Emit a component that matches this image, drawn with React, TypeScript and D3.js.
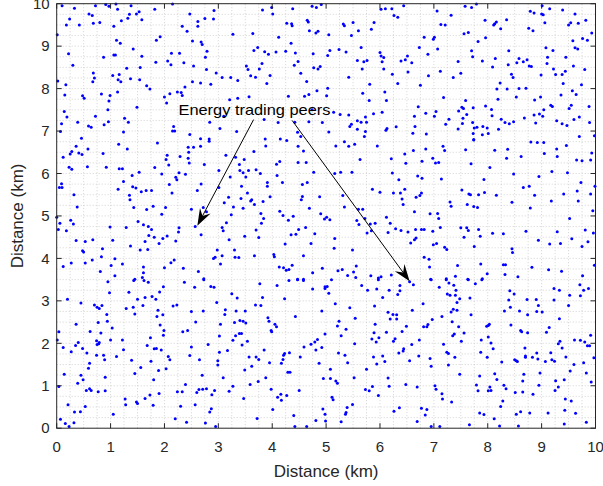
import React from "react";
import * as d3 from "d3";

const W = 603;
const H = 486;
const plot = { left: 56.7, right: 595.5, top: 3.7, bottom: 428.2 };

const xTicks = [0, 1, 2, 3, 4, 5, 6, 7, 8, 9, 10];
const yTicks = [0, 1, 2, 3, 4, 5, 6, 7, 8, 9, 10];
const xLabel = "Distance (km)";
const yLabel = "Distance (km)";
const annotationText = "Energy trading peers";
const annotationAt: [number, number] = [2.26, 7.38];
const arrowStarts: [number, number][] = [[3.655, 7.27], [4.37, 7.25]];
const arrowEnds: [number, number][] = [[2.61, 4.77], [6.55, 3.46]];

const peersTopLeft: [number, number][] = [
[0.10,9.95],[0.33,9.89],[0.72,9.95],[0.91,9.98],[0.97,9.94],[1.10,9.99],[1.13,9.87],[1.38,9.95],[1.82,9.87],[2.15,9.99],
[0.60,9.76],[0.66,9.72],[0.24,9.64],[0.18,9.50],[0.42,9.50],[0.68,9.54],[0.80,9.56],[1.06,9.47],[1.20,9.60],[1.32,9.66],
[1.35,9.75],[1.48,9.76],[1.53,9.81],[1.58,9.62],[2.47,9.76],[2.62,9.58],[2.62,9.47],[2.75,9.65],[2.91,9.64],[2.92,9.84],
[2.33,9.47],[2.42,9.35],[0.01,9.27],[1.11,9.14],[1.18,9.07],[1.85,9.14],[1.92,9.22],[2.52,9.12],[2.68,9.10],[2.70,9.04],
[0.22,8.82],[0.87,8.74],[1.06,8.79],[1.09,8.79],[1.42,8.93],[1.58,8.76],[2.13,8.83],[2.28,8.83],[2.79,8.88],[2.76,8.74],
[0.30,8.55],[0.68,8.37],[0.70,8.25],[0.67,8.16],[1.04,8.31],[1.16,8.33],[1.30,8.48],[1.55,8.50],[1.84,8.62],[2.06,8.65],
[2.12,8.56],[2.36,8.61],[2.54,8.53],[2.78,8.45],[2.96,8.37],[3.07,8.26],[0.02,8.18],[0.17,8.09],[1.14,8.21],[1.19,8.16],
[1.37,8.23],[1.54,8.21],[1.67,8.07],[1.73,7.99],[2.24,7.92],[2.31,7.91],[2.38,8.04],[2.52,8.16],[2.67,8.13],[2.86,8.10],
[0.15,7.85],[0.48,7.83],[0.51,7.77],[0.83,7.87],[0.99,7.84],[0.97,7.71],[1.13,7.92],[2.00,7.80],[2.10,7.88],[2.04,7.66],
[2.33,7.84],[0.14,7.46],[0.19,7.33],[0.39,7.21],[0.72,7.35],[0.95,7.50],[0.96,7.22],[0.88,7.15],[0.59,7.12],[0.64,7.09],
[1.49,7.56],[1.26,7.30],[1.33,7.21],[0.09,7.17],[0.07,6.99],[2.17,7.11],[2.15,7.00],[2.19,7.00],[2.47,6.92],[2.67,6.82],
[2.83,6.81],[3.03,7.06],[2.84,7.21],[3.10,7.35],[0.46,6.83],[1.24,6.98]
];

const peersTopMid: [number, number][] = [
[3.82,9.85],[3.99,9.91],[4.01,9.76],[4.38,9.88],[4.74,9.94],[4.82,9.91],[4.91,9.98],[6.02,9.87],[6.10,9.88],[6.22,9.88],
[6.44,9.95],[6.26,9.72],[6.33,9.68],[4.27,9.54],[4.36,9.53],[4.37,9.48],[4.65,9.61],[4.67,9.57],[4.69,9.36],[4.81,9.31],
[4.85,9.35],[5.05,9.27],[5.32,9.52],[5.34,9.48],[5.50,9.56],[5.60,9.36],[5.84,9.40],[5.89,9.56],[5.47,9.25],[3.27,9.28],
[3.64,9.30],[4.12,9.21],[4.35,9.07],[3.66,8.90],[3.73,8.97],[3.86,8.87],[3.93,8.81],[4.07,8.86],[4.25,8.88],[4.43,8.84],
[4.48,8.64],[4.41,8.55],[4.76,8.82],[5.03,8.78],[5.07,8.90],[5.24,8.92],[5.37,8.86],[5.65,8.97],[5.58,8.66],[5.70,8.63],
[5.76,8.66],[6.00,8.85],[6.04,8.63],[6.02,8.77],[6.07,8.73],[6.07,8.46],[6.39,8.65],[6.47,8.68],[6.51,8.77],[5.67,8.46],
[6.23,8.34],[6.52,8.39],[3.52,8.53],[3.55,8.45],[3.76,8.46],[3.81,8.59],[3.96,8.31],[3.90,8.12],[3.60,8.30],[3.69,8.27],
[4.53,8.36],[4.64,8.17],[4.77,8.49],[4.85,8.46],[4.89,8.52],[5.42,8.27],[5.03,8.01],[4.83,7.95],[4.68,7.86],[4.60,7.82],
[4.30,7.82],[5.01,7.83],[3.23,8.26],[3.36,8.19],[3.36,7.77],[3.57,7.81],[5.81,8.10],[5.68,7.89],[5.80,7.72],[6.09,7.92],
[6.33,8.12],[6.12,7.72],[6.04,7.44],[5.88,7.41],[5.42,7.38],[5.14,7.44],[5.26,7.39],[4.74,7.50],[4.11,7.20],[3.85,7.27],
[4.68,7.22],[4.93,7.20],[4.42,7.21],[5.05,6.98],[5.44,7.11],[5.47,7.16],[5.58,7.24],[5.65,7.21],[5.73,7.33],[5.75,7.21],
[5.58,7.04],[5.73,6.99],[5.71,6.87],[6.13,7.06],[6.11,7.02],[6.30,7.10],[3.34,6.99],[3.87,6.81],[4.15,6.81],[4.47,6.97],
[4.53,6.87],[3.21,7.74]
];

const peersTopRight: [number, number][] = [
[7.06,9.83],[7.32,9.73],[7.58,9.94],[7.70,9.91],[7.79,9.99],[7.13,9.51],[7.21,9.50],[7.95,9.61],[8.11,9.50],[8.13,9.53],
[8.16,9.57],[8.24,9.41],[8.35,9.62],[8.79,9.82],[8.86,9.78],[9.00,9.76],[9.03,9.74],[9.01,9.95],[9.15,9.88],[9.39,9.85],
[9.62,9.76],[9.50,9.50],[9.54,9.55],[9.68,9.54],[9.82,9.61],[8.76,9.42],[8.84,9.36],[9.06,9.55],[7.56,9.29],[7.64,9.32],
[6.82,9.21],[6.99,9.16],[7.01,9.21],[7.96,9.20],[7.82,9.11],[9.93,9.31],[9.58,9.13],[9.76,9.18],[9.85,9.14],[6.73,8.97],
[7.07,8.93],[6.89,8.81],[6.59,8.61],[7.45,8.64],[7.70,8.89],[7.72,8.75],[7.90,8.65],[8.14,8.71],[8.39,8.89],[8.38,8.56],
[8.54,8.61],[8.58,8.71],[8.66,8.63],[8.73,8.68],[8.77,8.53],[8.81,8.52],[9.08,8.96],[9.21,8.90],[9.11,8.74],[9.10,8.59],
[9.22,8.46],[9.62,8.96],[9.67,8.93],[9.45,8.74],[9.59,8.53],[9.44,8.41],[8.09,8.51],[7.12,8.41],[7.36,8.26],[7.50,8.36],
[6.90,8.30],[8.44,8.34],[8.47,8.26],[8.23,8.13],[8.17,7.99],[8.36,7.99],[8.58,8.00],[8.71,8.01],[8.99,8.32],[9.26,8.33],
[9.38,8.33],[9.40,8.12],[9.57,7.95],[9.64,7.86],[9.74,8.09],[9.80,8.45],[6.75,8.08],[7.18,7.79],[7.59,7.72],[8.19,7.75],
[8.53,7.80],[8.87,7.73],[8.98,7.80],[9.36,7.85],[6.71,7.57],[6.85,7.42],[7.01,7.35],[7.04,7.46],[7.22,7.16],[7.28,7.28],
[7.52,7.56],[7.55,7.53],[7.46,7.47],[7.73,7.55],[7.54,7.30],[7.61,7.39],[7.53,7.18],[7.96,7.59],[8.07,7.51],[8.08,7.36],
[8.25,7.28],[8.32,7.20],[8.40,7.17],[8.48,7.22],[8.68,7.31],[8.86,7.38],[8.96,7.40],[9.04,7.50],[9.02,7.35],[9.17,7.61],
[9.20,7.58],[9.51,7.53],[9.55,7.61],[8.89,7.19],[9.28,7.24],[9.38,7.17],[9.47,7.13],[9.60,7.27],[9.70,7.33],[9.88,7.58],
[9.89,7.20],[6.64,7.35],[6.65,7.11],[6.61,6.95],[6.86,6.93],[7.45,7.05],[7.72,7.20],[7.75,7.07],[7.80,7.09],[7.91,7.11],
[7.99,7.07],[8.20,7.04],[7.73,6.94],[7.74,6.80],[7.90,6.91],[8.01,6.94],[9.70,6.87],[9.98,6.89]
];

const peersMidLeft: [number, number][] = [
[0.36,6.64],[1.15,6.69],[1.31,6.58],[1.87,6.72],[0.12,6.38],[0.25,6.46],[0.28,6.52],[0.41,6.48],[0.47,6.45],[0.58,6.58],
[0.86,6.47],[0.23,6.15],[0.28,6.10],[0.57,6.16],[0.92,6.15],[1.16,6.11],[1.22,6.11],[1.40,5.95],[1.53,6.03],[1.82,6.14],
[1.95,5.99],[2.05,6.43],[2.03,6.33],[2.08,6.20],[2.29,6.40],[2.45,6.50],[2.44,6.36],[2.46,6.25],[2.44,6.62],[2.54,6.62],
[2.67,6.64],[2.83,6.76],[3.14,6.43],[2.74,6.21],[3.01,6.07],[0.05,5.67],[0.09,5.76],[0.10,5.67],[0.32,5.50],[1.14,5.63],
[1.24,5.81],[1.35,5.49],[1.36,5.38],[1.41,5.69],[1.47,5.66],[1.57,5.57],[1.66,5.60],[1.76,5.60],[2.09,5.74],[2.14,5.54],
[2.21,5.91],[2.23,5.85],[2.27,6.02],[2.39,5.98],[2.61,5.60],[2.68,5.75],[3.01,5.67],[3.11,5.31],[3.19,5.44],[0.38,5.21],
[0.00,4.97],[0.06,4.83],[0.03,4.68],[0.18,4.65],[0.26,4.90],[0.31,4.81],[1.43,5.20],[1.67,5.15],[1.79,5.23],[2.02,5.20],
[1.95,5.04],[2.50,5.16],[2.72,5.20],[2.78,5.10],[2.57,4.75],[2.68,4.56],[2.27,4.72],[2.26,4.62],[1.51,4.87],[1.61,4.79],
[1.70,4.75],[1.76,4.68],[1.29,4.73],[0.99,4.74],[0.36,4.42],[0.53,4.40],[0.67,4.44],[1.04,4.43],[1.37,4.29],[1.55,4.20],
[1.64,4.40],[1.69,4.21],[1.71,4.54],[1.81,4.50],[1.90,4.35],[1.97,4.47],[2.05,4.53],[2.21,4.41],[3.15,4.84],[3.07,4.73],
[3.09,4.65],[3.20,4.44],[2.98,4.20],[2.94,4.03],[2.91,4.00],[3.07,4.06],[3.04,3.87],[0.48,4.18],[0.50,4.15],[0.85,4.23],
[0.83,4.04],[0.66,3.96],[0.53,3.89],[0.27,3.89],[0.12,3.81],[1.01,3.83],[1.08,3.99],[1.22,3.87],[1.61,3.80],[1.61,3.66],
[1.59,3.55],[1.45,3.51],[1.08,3.59],[0.81,3.69],[2.00,3.78],[2.12,3.90],[2.18,3.96],[2.35,3.77],[2.63,3.69],[2.73,3.52]
];

const peersCenter: [number, number][] = [
[3.88,6.65],[4.27,6.78],[4.48,6.64],[5.18,6.65],[5.34,6.75],[5.42,6.64],[5.53,6.69],[5.95,6.65],[3.32,6.38],[3.48,6.33],
[3.66,6.52],[3.39,6.21],[4.08,6.22],[4.14,6.28],[4.48,6.26],[4.63,6.26],[4.58,6.53],[4.77,6.03],[5.63,6.33],[6.21,6.35],
[6.46,6.46],[6.48,6.24],[3.40,6.07],[3.46,6.02],[3.51,5.92],[3.56,6.07],[3.70,6.09],[3.78,6.00],[3.22,5.92],[3.91,5.79],
[3.91,5.70],[4.09,5.95],[4.19,5.79],[4.56,5.74],[4.65,5.79],[5.16,6.00],[5.27,6.03],[5.48,6.03],[6.23,6.01],[6.35,5.85],
[3.43,5.70],[3.54,5.54],[3.42,5.41],[3.60,5.35],[3.62,5.38],[3.67,5.27],[3.83,5.34],[3.96,5.45],[4.54,5.38],[4.56,5.46],
[4.88,5.45],[5.31,5.48],[5.34,5.21],[5.86,5.63],[6.00,5.56],[6.25,5.54],[6.38,5.54],[6.46,5.63],[6.41,5.40],[6.43,5.27],
[3.28,5.21],[3.46,5.18],[3.79,5.06],[3.84,4.94],[3.80,4.83],[4.14,5.11],[4.20,5.01],[4.30,4.90],[4.39,4.99],[4.69,5.18],
[4.62,4.73],[4.49,4.68],[4.79,4.58],[4.90,5.05],[4.97,4.93],[5.01,4.97],[5.07,4.91],[5.60,5.16],[5.68,5.16],[5.57,4.89],
[5.61,4.80],[5.82,4.81],[5.72,4.94],[5.91,4.83],[6.12,4.97],[6.19,4.83],[6.15,4.61],[6.29,4.70],[6.39,4.66],[6.52,4.62],
[3.24,5.03],[3.70,4.67],[3.75,4.49],[3.49,4.52],[4.35,4.56],[4.44,4.57],[4.24,4.34],[4.72,4.35],[5.16,4.47],[5.15,4.24],
[5.49,4.20],[5.76,4.60],[5.84,4.65],[3.30,4.20],[3.31,4.03],[3.38,4.02],[3.67,4.06],[4.03,4.09],[4.04,4.04],[4.58,4.06],
[4.13,3.80],[4.21,3.78],[4.26,3.72],[4.31,3.74],[4.37,3.84],[4.47,3.51],[4.58,3.51],[4.75,3.66],[4.93,3.77],[5.22,3.71],
[5.30,3.74],[5.56,3.82],[5.51,3.68],[5.55,3.55],[5.40,3.60],[5.83,3.59],[5.97,3.54],[6.02,3.57],[6.21,3.61]
];

const peersMidRight: [number, number][] = [
[6.62,6.54],[6.85,6.58],[7.17,6.64],[7.20,6.54],[7.59,6.56],[7.74,6.79],[8.13,6.55],[8.37,6.57],[8.80,6.74],[8.92,6.73],
[9.04,6.73],[9.28,6.58],[9.46,6.66],[6.78,6.29],[6.98,6.36],[7.03,6.25],[7.09,6.26],[7.69,6.23],[8.04,6.14],[8.35,6.36],
[8.62,6.40],[9.05,6.47],[9.29,6.40],[9.65,6.32],[9.75,6.30],[9.91,6.32],[9.93,6.48],[6.70,5.94],[6.78,5.89],[7.14,5.87],
[7.93,5.86],[8.48,5.99],[8.95,5.93],[9.19,6.05],[9.48,6.02],[6.77,5.54],[6.74,5.48],[6.67,5.44],[7.52,5.61],[7.65,5.52],
[7.68,5.50],[7.83,5.50],[7.94,5.55],[8.16,5.49],[8.66,5.67],[8.77,5.70],[8.87,5.49],[9.73,5.79],[9.66,5.59],[9.41,5.52],
[9.91,5.52],[9.99,5.70],[6.64,5.10],[6.93,5.05],[7.07,5.06],[7.09,4.94],[7.30,5.33],[7.32,5.23],[7.62,5.27],[7.74,5.22],
[7.81,5.20],[8.45,5.32],[8.79,5.19],[9.18,5.35],[9.68,5.35],[9.52,4.94],[9.95,5.12],[6.66,4.68],[6.77,4.68],[6.82,4.68],
[7.12,4.73],[6.98,4.64],[7.50,4.72],[7.61,4.72],[7.64,4.66],[7.83,4.68],[7.56,4.50],[7.86,4.52],[8.09,4.59],[8.29,4.58],
[8.71,4.64],[9.29,4.63],[9.81,4.67],[9.96,4.60],[6.57,4.36],[6.64,4.44],[6.67,4.48],[6.99,4.32],[7.05,4.35],[7.20,4.26],
[7.24,4.21],[7.75,4.28],[8.45,4.23],[8.46,4.14],[8.94,4.43],[9.15,4.34],[9.35,4.35],[9.56,4.46],[9.75,4.28],[9.86,4.39],
[6.82,4.03],[6.91,3.98],[6.92,3.80],[7.44,3.83],[7.87,3.87],[8.29,3.85],[8.33,3.85],[8.82,3.79],[9.13,3.73],[9.37,3.70],
[9.98,3.84],[7.99,3.64],[8.32,3.62],[8.56,3.57],[9.76,3.59],[6.94,3.51],[7.23,3.52],[7.40,3.58],[7.63,3.51],[7.90,3.52]
];

const peersBottomLeft: [number, number][] = [
[0.95,3.45],[1.43,3.48],[1.62,3.48],[1.70,3.44],[2.37,3.44],[2.56,3.32],[2.73,3.50],[2.86,3.34],[2.92,3.32],[0.98,3.19],
[1.34,3.20],[1.98,3.33],[1.91,3.21],[0.20,3.04],[0.45,2.95],[0.70,2.90],[0.75,2.85],[0.79,2.82],[0.84,2.89],[1.29,2.82],
[1.42,2.85],[1.45,2.69],[1.50,3.04],[1.64,3.08],[1.77,3.10],[1.84,3.04],[1.60,2.89],[1.88,2.78],[1.86,2.63],[1.97,2.67],
[2.16,2.88],[2.23,2.90],[2.50,2.75],[2.72,2.76],[2.97,2.96],[3.13,2.79],[3.12,2.68],[0.93,2.68],[0.77,2.49],[0.94,2.52],
[1.03,2.36],[0.82,2.24],[0.62,2.28],[0.36,2.45],[0.04,2.27],[0.01,2.08],[1.92,2.43],[1.99,2.30],[1.98,2.19],[1.74,2.13],
[2.34,2.27],[2.43,2.30],[2.58,2.50],[3.04,2.45],[3.02,2.17],[0.40,2.02],[0.35,1.95],[0.12,1.90],[0.27,1.80],[0.48,1.88],
[0.56,1.77],[0.74,2.06],[0.78,1.99],[0.75,1.97],[0.79,2.02],[1.00,2.08],[1.22,2.08],[1.24,1.85],[1.11,1.69],[1.68,1.95],
[1.81,1.87],[1.85,1.88],[1.94,1.84],[0.74,1.72],[0.87,1.72],[0.89,1.61],[1.39,1.60],[1.75,1.58],[2.07,1.69],[2.10,1.61],
[2.47,1.71],[2.50,1.91],[2.65,1.61],[2.81,1.97],[3.02,1.79],[3.17,1.83],[2.99,1.59],[2.99,1.49],[0.61,1.53],[0.59,1.41],
[0.14,1.27],[0.45,1.25],[0.49,1.14],[0.39,1.06],[0.90,1.20],[1.45,1.29],[1.56,1.43],[1.80,1.14],[1.89,1.36],[2.03,1.40],
[2.70,1.25],[3.09,1.19],[0.04,0.98],[0.55,0.89],[0.61,0.93],[0.64,0.89],[0.77,0.86],[0.90,0.88],[1.27,0.69],[1.28,0.55],
[1.48,0.62],[1.50,0.58],[1.64,0.70],[1.73,0.78],[1.79,0.54],[1.90,0.82],[2.24,0.86],[2.33,0.86],[2.39,1.03],[2.60,0.84],
[2.64,0.91],[2.71,0.92],[2.78,0.93],[2.93,0.89],[2.88,0.79],[3.20,0.87],[0.21,0.55],[0.53,0.51],[0.33,0.38],[0.44,0.39],
[0.07,0.21],[0.16,0.11],[0.23,0.04],[0.32,0.13],[1.05,0.33],[2.20,0.22],[2.30,0.52],[2.41,0.14],[2.57,0.55],[2.76,0.12],
[2.84,0.38],[2.87,0.46],[2.95,0.04]
];

const peersBottomMid: [number, number][] = [
[3.77,3.40],[4.09,3.36],[4.31,3.48],[4.47,3.50],[4.58,3.48],[4.75,3.28],[4.98,3.33],[5.02,3.34],[4.98,3.29],[5.10,3.50],
[5.66,3.36],[5.77,3.25],[5.94,3.28],[5.97,3.50],[6.17,3.25],[6.37,3.36],[6.33,3.15],[6.37,3.24],[3.25,3.17],[3.35,3.07],
[3.82,3.08],[3.79,2.89],[3.69,2.90],[4.23,3.05],[5.05,3.18],[5.17,2.93],[5.44,2.84],[6.05,3.08],[5.90,2.88],[3.33,2.76],
[3.50,2.76],[3.30,2.49],[3.40,2.54],[3.46,2.52],[3.51,2.48],[3.92,2.60],[3.94,2.52],[4.05,2.45],[4.08,2.39],[3.98,2.30],
[3.99,2.27],[4.43,2.63],[4.92,2.76],[5.24,2.52],[5.21,2.41],[5.37,2.33],[5.54,2.59],[6.15,2.73],[6.24,2.68],[6.31,2.67],
[6.19,2.57],[6.31,2.57],[6.49,2.40],[6.41,2.28],[5.91,2.45],[5.89,2.25],[6.12,2.26],[3.27,2.07],[3.32,2.18],[3.39,2.23],
[3.43,2.23],[3.54,2.05],[3.44,1.96],[3.85,1.84],[3.57,1.68],[3.70,1.68],[3.75,1.62],[3.62,1.46],[3.49,1.37],[3.95,1.54],
[4.17,1.53],[4.20,1.62],[4.21,1.72],[4.23,1.76],[4.32,1.78],[4.52,1.68],[4.59,1.91],[4.72,1.98],[4.79,2.03],[4.84,2.09],
[4.81,1.84],[4.92,1.90],[4.98,2.22],[5.28,2.18],[5.23,1.77],[5.35,1.72],[5.40,1.54],[5.53,1.99],[5.85,2.10],[5.93,2.03],
[5.98,2.13],[6.28,2.11],[6.25,2.05],[6.44,1.87],[6.43,1.82],[6.35,1.77],[5.88,1.68],[6.05,1.70],[6.09,1.57],[5.94,1.51],
[5.75,1.39],[4.29,1.32],[4.33,1.32],[4.87,1.53],[5.08,1.39],[4.95,1.17],[5.08,1.17],[5.18,1.11],[5.21,1.06],[5.52,1.19],
[6.15,1.18],[6.17,0.99],[6.48,1.03],[3.27,0.99],[3.59,1.03],[3.74,1.10],[3.88,1.19],[3.98,0.92],[3.47,0.70],[4.10,0.73],
[4.17,0.66],[4.16,0.80],[4.27,0.77],[4.50,0.89],[5.11,0.73],[5.13,0.67],[5.73,0.91],[5.80,0.88],[5.86,0.98],[5.97,0.77],
[4.01,0.44],[4.40,0.30],[3.72,0.23],[4.42,0.04],[4.64,0.04],[4.81,0.18],[4.94,0.45],[4.98,0.33],[4.99,0.17],[5.28,0.15],
[5.36,0.33],[5.37,0.37],[5.39,0.49],[5.49,0.56],[6.26,0.40],[6.36,0.48]
];

const peersBottomRight: [number, number][] = [
[6.55,3.45],[6.62,3.38],[6.95,3.50],[7.10,3.32],[7.23,3.50],[7.28,3.42],[7.37,3.37],[7.41,3.25],[7.25,3.16],[7.30,3.13],
[7.40,3.13],[7.48,3.05],[7.43,2.96],[7.64,3.50],[7.77,3.40],[7.89,3.50],[8.41,3.24],[8.49,3.16],[8.39,3.02],[8.42,2.85],
[8.31,2.76],[8.59,2.76],[8.73,3.03],[8.74,2.67],[8.90,3.03],[8.94,2.89],[8.91,2.75],[9.01,2.74],[9.23,3.29],[9.33,3.25],
[9.23,3.02],[9.52,3.13],[9.50,2.89],[9.72,3.12],[9.71,3.38],[9.78,3.25],[9.87,3.29],[6.60,2.78],[6.80,2.93],[6.97,2.56],
[6.89,2.44],[6.87,2.39],[6.81,2.39],[7.15,2.63],[7.32,2.74],[7.36,2.80],[7.43,2.78],[7.34,2.51],[7.67,3.07],[7.69,2.67],
[7.38,2.22],[7.35,2.18],[7.56,2.24],[7.46,2.39],[7.51,2.05],[7.98,2.40],[8.01,2.42],[8.03,2.45],[8.43,2.43],[8.61,2.30],
[8.63,2.27],[8.74,2.25],[9.09,2.26],[9.14,2.37],[9.33,2.58],[9.91,2.19],[9.61,2.08],[9.72,2.07],[9.80,2.03],[9.85,1.94],
[9.89,1.94],[9.31,1.99],[9.34,2.05],[9.38,1.89],[6.73,2.08],[6.59,1.97],[7.18,1.98],[7.24,1.79],[7.27,1.76],[7.39,1.67],
[7.88,2.08],[8.01,2.15],[8.06,2.01],[8.10,1.87],[7.87,1.79],[7.99,1.67],[8.69,1.89],[8.70,1.70],[8.70,1.67],[8.83,1.67],
[8.91,1.77],[8.93,1.63],[9.07,1.57],[9.17,1.78],[9.19,1.61],[9.24,1.58],[9.45,1.68],[9.60,1.50],[9.78,1.54],[9.97,1.66],
[6.55,1.59],[6.72,1.70],[6.93,1.64],[6.95,1.46],[7.27,1.49],[7.48,1.27],[7.85,1.23],[8.13,1.28],[8.17,1.15],[8.26,1.56],
[8.50,1.61],[8.53,1.59],[8.55,1.57],[8.67,1.27],[8.65,1.11],[8.97,1.30],[8.95,1.01],[9.26,1.12],[9.42,1.14],[9.53,1.35],
[9.83,1.30],[9.92,1.09],[6.69,0.97],[7.02,1.00],[7.04,0.92],[7.79,1.02],[7.82,0.88],[8.01,0.88],[8.04,0.97],[8.06,0.89],
[8.30,1.01],[8.34,0.93],[8.51,0.84],[8.65,0.85],[8.84,0.80],[9.25,0.89],[9.31,0.97],[7.15,0.81],[7.16,0.69],[7.33,0.62],
[8.28,0.64],[8.24,0.51],[9.44,0.69],[9.55,0.64],[6.77,0.47],[6.87,0.44],[6.84,0.31],[6.69,0.16],[6.95,0.04],[7.11,0.04],
[7.66,0.08],[7.85,0.36],[7.93,0.32],[8.12,0.22],[8.22,0.05],[8.57,0.05],[8.53,0.33],[8.61,0.39],[8.78,0.36],[9.12,0.36],
[9.43,0.42],[9.63,0.35],[9.42,0.10],[9.83,0.14]
];

const peers: [number, number][] = [
  ...peersTopLeft, ...peersTopMid, ...peersTopRight,
  ...peersMidLeft, ...peersCenter, ...peersMidRight,
  ...peersBottomLeft, ...peersBottomMid, ...peersBottomRight,
];

const axisColor = "#262626";
const font = "'Liberation Sans', Arial, Helvetica, sans-serif";

function arrowHead(x1: number, y1: number, x2: number, y2: number) {
  const dx = x2 - x1, dy = y2 - y1;
  const len = Math.hypot(dx, dy);
  const ux = dx / len, uy = dy / len;
  const px = -uy, py = ux;
  const hl = 17, hw = 6, notch = 11;
  const bx = x2 - ux * hl, by = y2 - uy * hl;
  const nx = x2 - ux * notch, ny = y2 - uy * notch;
  const path = `M${x2},${y2}L${bx + px * hw},${by + py * hw}L${nx},${ny}L${bx - px * hw},${by - py * hw}Z`;
  return { path, lineEnd: [nx, ny] as [number, number] };
}

export default function App() {
  const x = d3.scaleLinear().domain([0, 10]).range([plot.left, plot.right]);
  const y = d3.scaleLinear().domain([0, 10]).range([plot.bottom, plot.top]);
  const minor = d3.range(1, 40).map((i) => i * 0.25);
  const tickLen = 5;

  return (
    <svg width={W} height={H} style={{ position: "fixed", left: 0, top: 0, background: "#fff" }} fontFamily={font}>
      <rect x={0} y={0} width={W} height={H} fill="#fff" />
      <g stroke="#c8c8c8" strokeWidth={0.8} strokeDasharray="1,2">
        {minor.map((v) => (
          <line key={"gx" + v} x1={x(v)} x2={x(v)} y1={y(0)} y2={y(10)} />
        ))}
        {minor.map((v) => (
          <line key={"gy" + v} x1={x(0)} x2={x(10)} y1={y(v)} y2={y(v)} />
        ))}
      </g>
      <g fill="#0000ff">
        {peers.map((p, i) => (
          <circle key={i} cx={x(p[0])} cy={y(p[1])} r={1.5} />
        ))}
      </g>
      <g stroke={axisColor} strokeWidth={1} fill="none">
        <rect x={plot.left} y={plot.top} width={plot.right - plot.left} height={plot.bottom - plot.top} />
        {xTicks.map((t) => (
          <g key={"xt" + t}>
            <line x1={x(t)} x2={x(t)} y1={plot.bottom} y2={plot.bottom - tickLen} />
            <line x1={x(t)} x2={x(t)} y1={plot.top} y2={plot.top + tickLen} />
          </g>
        ))}
        {yTicks.map((t) => (
          <g key={"yt" + t}>
            <line x1={plot.left} x2={plot.left + tickLen} y1={y(t)} y2={y(t)} />
            <line x1={plot.right} x2={plot.right - tickLen} y1={y(t)} y2={y(t)} />
          </g>
        ))}
      </g>
      <g fill={axisColor} fontSize={15}>
        {xTicks.map((t) => (
          <text key={"xl" + t} x={x(t)} y={452} textAnchor="middle">{t}</text>
        ))}
        {yTicks.map((t) => (
          <text key={"yl" + t} x={plot.left - 7} y={y(t)} dy="0.35em" textAnchor="end">{t}</text>
        ))}
      </g>
      <text x={(plot.left + plot.right) / 2} y={476.5} textAnchor="middle" fontSize={17} fill={axisColor}>{xLabel}</text>
      <text transform={`translate(22.5,${(plot.top + plot.bottom) / 2}) rotate(-90)`} textAnchor="middle" fontSize={17} fill={axisColor}>{yLabel}</text>
      {arrowStarts.map((s, i) => {
        const e = arrowEnds[i];
        const x1 = x(s[0]), y1 = y(s[1]), x2 = x(e[0]), y2 = y(e[1]);
        const head = arrowHead(x1, y1, x2, y2);
        return (
          <g key={"ar" + i}>
            <line x1={x1} y1={y1} x2={head.lineEnd[0]} y2={head.lineEnd[1]} stroke="#000" strokeWidth={1} />
            <path d={head.path} fill="#000" />
          </g>
        );
      })}
      <text x={x(annotationAt[0])} y={y(annotationAt[1])} fontSize={15} fill="#000" textLength={152} lengthAdjust="spacingAndGlyphs">{annotationText}</text>
    </svg>
  );
}
